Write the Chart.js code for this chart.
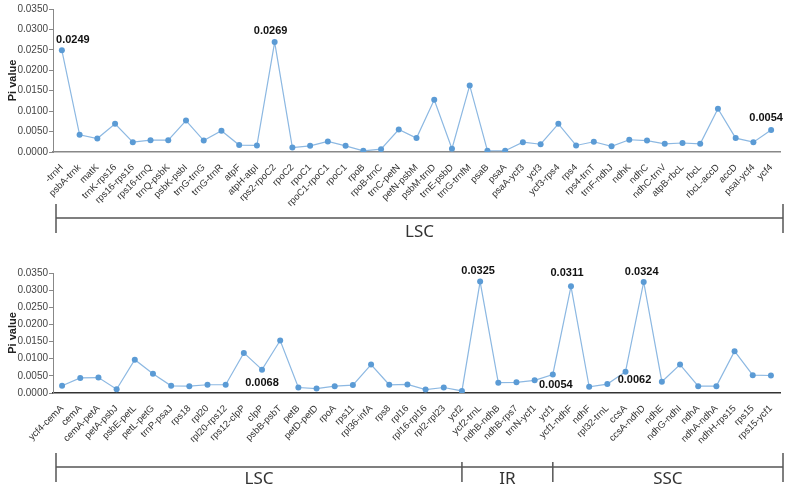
<!DOCTYPE html>
<html>
<head>
<meta charset="utf-8">
<script src="https://cdn.jsdelivr.net/npm/chart.js@4.4.1/dist/chart.umd.min.js"></script>
<style>
    html, body { margin: 0; padding: 0; background: #fff; }
    #wrap { position: relative; width: 789px; height: 491px; }
    canvas { position: absolute; left: 0; }
</style>
</head>
<body>
<div id="wrap">
    <canvas id="topChart" width="789" height="245" style="top:0"></canvas>
    <canvas id="bottomChart" width="789" height="246" style="top:245px"></canvas>
</div>
<script>
// upper panel (LSC)
const topLabels = ['-trnH', 'psbA-trnk', 'matK', 'trnK-rps16', 'rps16-rps16', 'rps16-trnQ', 'trnQ-psbK', 'psbK-psbI',
    'trnG-trnG', 'trnG-trnR', 'atpF', 'atpH-atpI', 'rps2-rpoC2', 'rpoC2', 'rpoC1', 'rpoC1-rpoC1', 'rpoC1', 'rpoB',
    'rpoB-trnC', 'trnC-petN', 'petN-psbM', 'psbM-trnD', 'trnE-psbD', 'trnG-trnfM', 'psaB', 'psaA', 'psaA-ycf3',
    'ycf3', 'ycf3-rps4', 'rps4', 'rps4-trnT', 'trnF-ndhJ', 'ndhK', 'ndhC', 'ndhC-trnV', 'atpB-rbcL', 'rbcL',
    'rbcL-accD', 'accD', 'psaI-ycf4', 'ycf4'];
const topValues = [0.0249, 0.0042, 0.0033, 0.0069, 0.0024, 0.0029, 0.0029, 0.0077, 0.0028, 0.0052, 0.0017, 0.0016,
    0.0269, 0.0011, 0.0015, 0.0026, 0.0015, 0.0003, 0.0007, 0.0055, 0.0034, 0.0128, 0.0008, 0.0163, 0.0003, 0.0003,
    0.0024, 0.0019, 0.0069, 0.0016, 0.0025, 0.0014, 0.0030, 0.0028, 0.0020, 0.0022, 0.0020, 0.0106, 0.0034, 0.0024,
    0.0054];
const topMarked = [0, 12, 40];
const topRegionNames = ['LSC'];
const topRegionBreaks = [];

// lower panel (LSC / IR / SSC)
const bottomLabels = ['ycf4-cemA', 'cemA', 'cemA-petA', 'petA-psbJ', 'psbE-petL', 'petL-petG', 'trnP-psaJ', 'rps18',
    'rpl20', 'rpl20-rps12', 'rps12-clpP', 'clpP', 'psbB-psbT', 'petB', 'petD-petD', 'rpoA', 'rps11', 'rpl36-infA',
    'rps8', 'rpl16', 'rpl16-rpl16', 'rpl2-rpl23', 'ycf2', 'ycf2-trnL', 'ndhB-ndhB', 'ndhB-rps7', 'trnN-ycf1', 'ycf1',
    'ycf1-ndhF', 'ndhF', 'rpl32-trnL', 'ccsA', 'ccsA-ndhD', 'ndhE', 'ndhG-ndhI', 'ndhA', 'ndhA-ndhA', 'ndhH-rps15',
    'rps15', 'rps15-ycf1'];
const bottomValues = [0.0021, 0.0044, 0.0045, 0.0011, 0.0097, 0.0056, 0.0021, 0.0020, 0.0024, 0.0024, 0.0117, 0.0068,
    0.0153, 0.0016, 0.0013, 0.0020, 0.0023, 0.0083, 0.0024, 0.0025, 0.0010, 0.0016, 0.0006, 0.0325, 0.0030, 0.0031,
    0.0037, 0.0054, 0.0311, 0.0018, 0.0026, 0.0062, 0.0324, 0.0033, 0.0083, 0.0020, 0.0020, 0.0122, 0.0052, 0.0051];
const bottomMarked = [11, 23, 27, 28, 31, 32];
const bottomRegionNames = ['LSC', 'IR', 'SSC'];
const bottomRegionBreaks = [22, 27];

// where each value label sits relative to its point (dx, dy)
const topMarkOffsets = [[11, -10], [-4, -11], [-5, -12]];
const bottomMarkOffsets = [[0, 13], [-2, -11], [3, 10], [-4, -13], [9, 8], [-2, -10]];

// value labels next to the marked points
const markPlugin = {
    id: 'marks',
    afterDatasetsDraw(chart) {
        const o = chart.options.plugins.marks;
        const meta = chart.getDatasetMeta(0);
        const ctx = chart.ctx;
        ctx.save();
        ctx.font = o.font;
        ctx.fillStyle = '#111';
        ctx.textAlign = 'center';
        ctx.textBaseline = 'middle';
        o.indices.forEach((idx, i) => {
            const pt = meta.data[idx];
            const v = chart.data.datasets[0].data[idx];
            ctx.fillText(v.toFixed(4), pt.x + o.offsets[i][0], pt.y + o.offsets[i][1]);
        });
        ctx.restore();
    }
};

// region bracket under the axis labels
const regionPlugin = {
    id: 'regions',
    afterDraw(chart) {
        const o = chart.options.plugins.regions;
        const xs = chart.scales.x;
        const ctx = chart.ctx;
        const x0 = xs.left + 3;
        const x1 = xs.right + 3;
        const y = o.y;
        const edges = [x0].concat(o.breaks.map(b => xs.getPixelForValue(b)), [x1]);

        ctx.save();
        ctx.strokeStyle = '#555';
        ctx.lineWidth = 1.5;
        ctx.beginPath();
        ctx.moveTo(x0, y);
        ctx.lineTo(x1, y);
        ctx.moveTo(x0, y - 14);
        ctx.lineTo(x0, y + 15);
        ctx.moveTo(x1, y - 14);
        ctx.lineTo(x1, y + 15);
        o.breaks.forEach(b => {
            const bx = xs.getPixelForValue(b);
            ctx.moveTo(bx, y - 5);
            ctx.lineTo(bx, y + 15);
        });
        ctx.stroke();

        ctx.fillStyle = '#333';
        ctx.font = '17px "Noto Sans"';
        ctx.textAlign = 'center';
        ctx.textBaseline = 'middle';
        o.names.forEach((name, i) => {
            ctx.fillText(name, (edges[i] + edges[i + 1]) / 2, y + o.textDy);
        });
        ctx.restore();
    }
};

function makeChart(id, labels, values, cfg) {
    const ctx = document.getElementById(id).getContext('2d');
    return new Chart(ctx, {
        type: 'line',
        data: {
            labels: labels,
            datasets: [{
                data: values,
                borderColor: '#8cb8e2',
                borderWidth: 1.2,
                pointBackgroundColor: '#5b9bd5',
                pointBorderColor: '#5b9bd5',
                pointRadius: 3,
                pointBorderWidth: 0,
                tension: 0,
                fill: false
            }]
        },
        options: {
            responsive: false,
            animation: false,
            layout: { padding: { top: cfg.top, right: 9, left: 0, bottom: 0 } },
            plugins: {
                legend: { display: false },
                tooltip: { enabled: false },
                marks: { indices: cfg.marked, offsets: cfg.offsets, font: cfg.markFont },
                regions: { names: cfg.regionNames, breaks: cfg.breaks, y: cfg.bracketY, textDy: cfg.textDy }
            },
            scales: {
                x: {
                    offset: true,
                    grid: { display: false },
                    border: { color: cfg.axisColor, width: 1.6 },
                    ticks: {
                        autoSkip: false,
                        minRotation: 45,
                        maxRotation: 45,
                        padding: 2,
                        color: '#333',
                        font: { family: '"Liberation Sans"', size: 9.5 }
                    },
                    afterFit: s => { s.height = cfg.xHeight; }
                },
                y: {
                    min: 0,
                    max: 0.035,
                    grid: { drawOnChartArea: false, drawTicks: true, tickLength: 4, color: '#888' },
                    border: { color: '#888', width: 1 },
                    ticks: {
                        stepSize: 0.005,
                        padding: 1,
                        color: '#444',
                        font: { family: '"Liberation Sans"', size: 10 },
                        callback: v => v.toFixed(4)
                    },
                    title: {
                        display: true,
                        text: 'Pi value',
                        color: '#222',
                        padding: { top: 6, bottom: 0 },
                        font: { family: '"Liberation Sans"', size: 11, weight: 'bold' }
                    },
                    afterFit: s => { s.width = 53; }
                }
            }
        },
        plugins: [markPlugin, regionPlugin]
    });
}

makeChart('topChart', topLabels, topValues, {
    top: 9, xHeight: 93, marked: topMarked, offsets: topMarkOffsets,
    markFont: 'bold 11px "Liberation Sans"', regionNames: topRegionNames, breaks: topRegionBreaks,
    bracketY: 218, textDy: 14, axisColor: '#888'
});

makeChart('bottomChart', bottomLabels, bottomValues, {
    top: 28, xHeight: 98, marked: bottomMarked, offsets: bottomMarkOffsets,
    markFont: 'bold 11px "Liberation Sans"', regionNames: bottomRegionNames, breaks: bottomRegionBreaks,
    bracketY: 222, textDy: 12, axisColor: '#333'
});
</script>
</body>
</html>
